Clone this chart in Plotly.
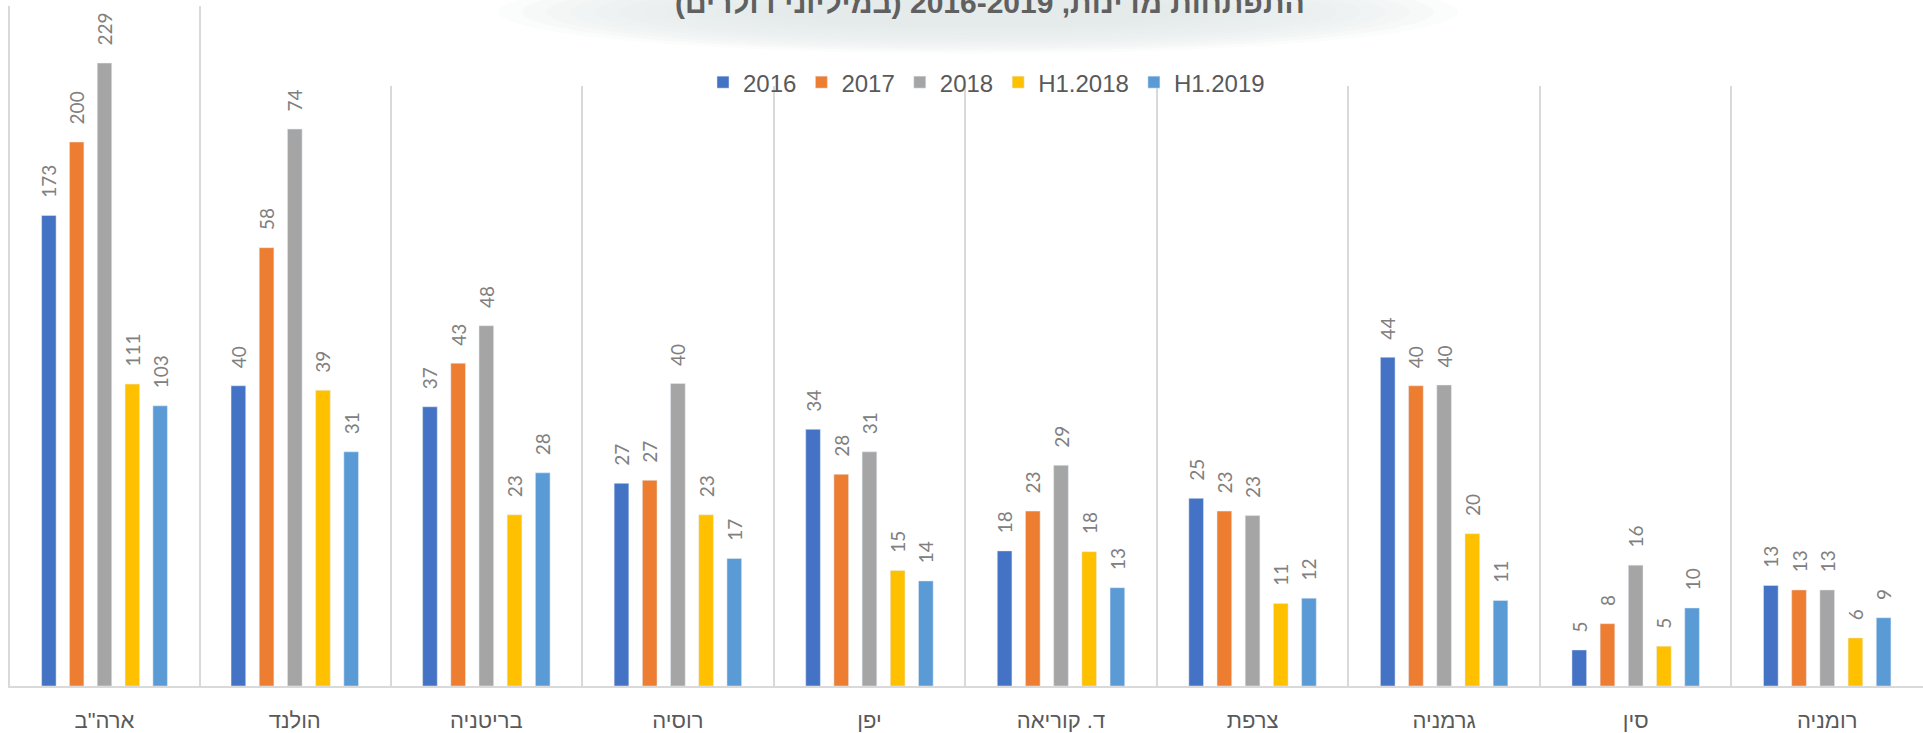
import plotly.graph_objects as go

# ---------------- data ----------------
us_category = ['ארה"ב']
categories = ["הולנד", "בריטניה", "רוסיה", "יפן", "ד. קוריאה", "צרפת", "גרמניה", "סין", "רומניה"]

series_names = ["2016", "2017", "2018", "H1.2018", "H1.2019"]

us_2016 = [173]
us_2017 = [200]
us_2018 = [229]
us_h1_2018 = [111]
us_h1_2019 = [103]

v_2016 = [40.0, 37.2, 27.0, 34.2, 18.0, 25.0, 43.8, 4.8, 13.4]
v_2017 = [58.4, 43.0, 27.4, 28.2, 23.3, 23.3, 40.0, 8.3, 12.8]
v_2018 = [74.2, 48.0, 40.3, 31.2, 29.4, 22.7, 40.1, 16.1, 12.8]
v_h1_2018 = [39.4, 22.8, 22.8, 15.4, 17.9, 11.0, 20.3, 5.3, 6.4]
v_h1_2019 = [31.2, 28.4, 17.0, 14.0, 13.1, 11.7, 11.4, 10.4, 9.1]

title_text = "התפתחות מדינות, 2016-2019 (במיליוני דולרים)"

# ---------------- styles ----------------
colors = ["#4472C4", "#ED7D31", "#A5A5A5", "#FFC000", "#5B9BD5"]
us_values = [us_2016, us_2017, us_2018, us_h1_2018, us_h1_2019]
main_values = [v_2016, v_2017, v_2018, v_h1_2018, v_h1_2019]

W, H = 1923, 733
M_T, M_B = 6, 43
PLOT_H = H - M_T - M_B
GRID = "#d9d9d9"
LABEL_FONT = dict(family="Lato, Open Sans, sans-serif", size=19, color="#808080")
TEXT_FONT = "Liberation Sans Narrow, Liberation Sans, DejaVu Sans, sans-serif"

fig = go.Figure()
for name, col, usv, mv in zip(series_names, colors, us_values, main_values):
    common = dict(
        marker_color=col,
        name=name,
        legendgroup=name,
        texttemplate="\u00a0\u00a0\u00a0%{y:.0f}",
        textposition="outside",
        textangle=-90,
        textfont=LABEL_FONT,
        constraintext="none",
        cliponaxis=False,
        hoverinfo="skip",
    )
    fig.add_bar(x=us_category, y=usv, xaxis="x", yaxis="y", showlegend=True, **common)
    fig.add_bar(x=categories, y=mv, xaxis="x2", yaxis="y2", showlegend=False, **common)

x_us_end = 199 / W
main_top = 604 / PLOT_H

axis_tick_font = dict(family=TEXT_FONT, size=22, color="#595959")

fig.update_layout(
    width=W,
    height=H,
    margin=dict(l=0, r=0, t=M_T, b=M_B, pad=0),
    paper_bgcolor="white",
    plot_bgcolor="rgba(0,0,0,0)",
    barmode="group",
    bargap=0.264,
    bargroupgap=0.48,
    showlegend=True,
    legend=dict(
        orientation="h",
        x=0.513,
        xanchor="center",
        y=(H - M_B - 83) / PLOT_H,
        yanchor="middle",
        bgcolor="rgba(0,0,0,0)",
        font=dict(family=TEXT_FONT, size=24, color="#595959"),
        traceorder="normal",
        itemwidth=30,
    ),
    xaxis=dict(
        domain=[10 / W, x_us_end],
        anchor="y",
        showline=True,
        linecolor=GRID,
        linewidth=2,
        showgrid=False,
        ticks="",
        tickfont=axis_tick_font,
        ticklabelstandoff=14,
        fixedrange=True,
    ),
    yaxis=dict(
        domain=[0, 1],
        anchor="x",
        range=[0, 250],
        showline=True,
        mirror=True,
        linecolor=GRID,
        linewidth=1.5,
        showgrid=False,
        zeroline=False,
        showticklabels=False,
        ticks="",
        fixedrange=True,
    ),
    xaxis2=dict(
        domain=[x_us_end, 1],
        anchor="y2",
        showline=True,
        linecolor=GRID,
        linewidth=2,
        showgrid=True,
        gridcolor=GRID,
        gridwidth=1.5,
        tickson="boundaries",
        ticks="",
        tickfont=axis_tick_font,
        ticklabelstandoff=14,
        fixedrange=True,
    ),
    yaxis2=dict(
        domain=[0, main_top],
        anchor="x2",
        range=[0, 80],
        showline=False,
        showgrid=False,
        zeroline=False,
        showticklabels=False,
        ticks="",
        fixedrange=True,
    ),
)

# soft shadow behind the (partly cut) title
def py(p):
    return (H - M_B - p) / PLOT_H

cx, cy = 978 / W, 12
n = 12
for i in range(n):
    f = 1 - i / n
    rx = 190 + 290 * f
    ry = 12 + 30 * f
    fig.add_shape(
        type="circle",
        xref="paper", yref="paper",
        x0=cx - rx / W, x1=cx + rx / W,
        y0=py(cy + ry), y1=py(cy - ry),
        fillcolor="#e4e7e7",
        opacity=0.14,
        line_width=0,
        layer="below",
    )

fig.add_annotation(
    text=title_text,
    xref="paper", yref="paper",
    x=990 / W, y=py(21),
    xanchor="center", yanchor="bottom",
    showarrow=False,
    font=dict(family=TEXT_FONT, size=30, color="#606060", weight="bold"),
)

fig.write_html(
    "out.html",
    config={"displayModeBar": False},
    post_script="document.body.style.margin='0';document.body.style.overflow='hidden';",
)
